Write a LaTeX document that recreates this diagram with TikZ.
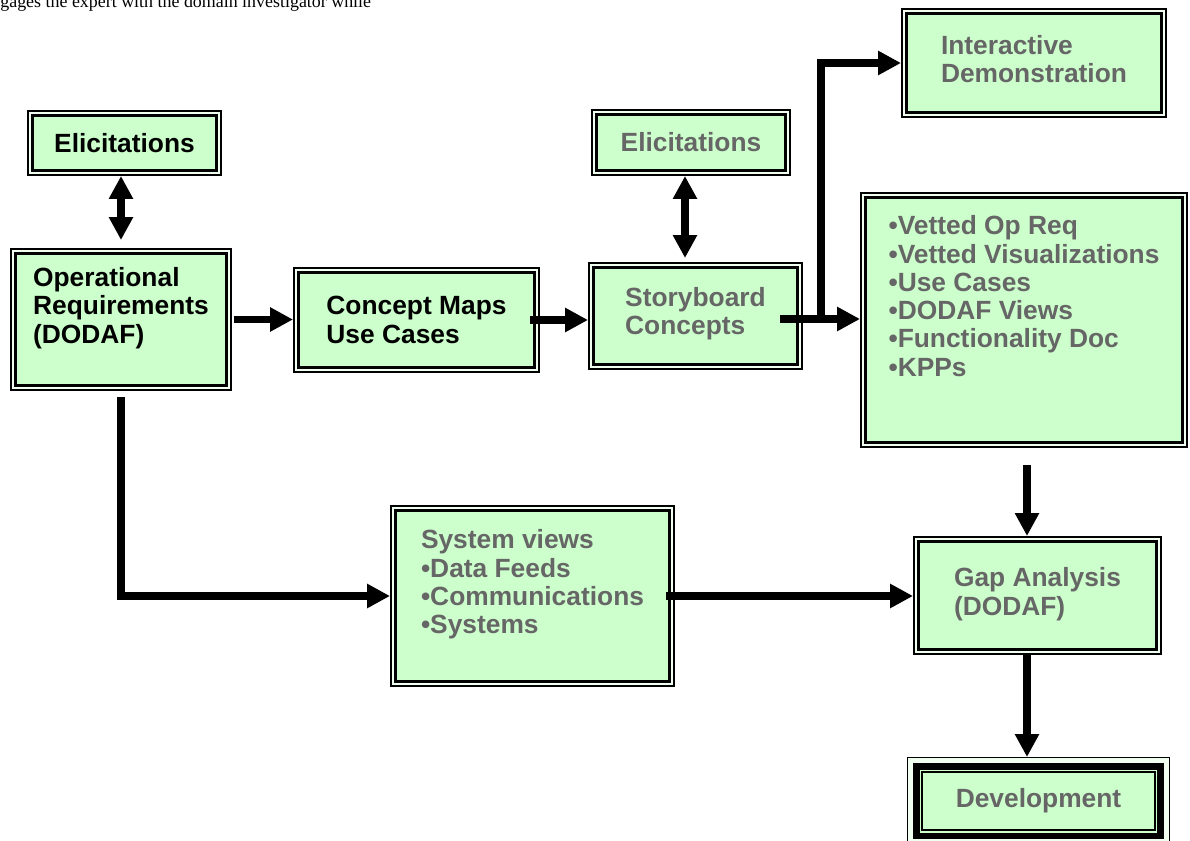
\documentclass[tikz,border=0pt]{standalone}
\usepackage{fontspec}
\setmainfont{Liberation Sans}
\newfontfamily\timesfont{Liberation Serif}
\usetikzlibrary{arrows.meta}
\definecolor{boxgreen}{HTML}{CCFFCC}
\definecolor{textgrey}{HTML}{666666}

\begin{document}
\begin{tikzpicture}[x=0.02cm,y=-0.02cm,
    boxbase/.style={rectangle,fill=boxgreen,draw=black,inner sep=2pt,align=left,
      font=\bfseries\fontsize{15}{16.1}\selectfont},
    box/.style={boxbase,line width=0.06cm,outer sep=0.1cm,
      preaction={draw=black,line width=0.2cm},
      preaction={draw=boxgreen!30!white,line width=0.14cm}},
    devbox/.style={boxbase,line width=0.03cm,outer sep=0.3cm,
      preaction={draw=black,line width=0.62cm},
      preaction={draw=boxgreen!30!white,line width=0.56cm},
      preaction={draw=black,line width=0.38cm},
      preaction={draw=boxgreen,line width=0.1cm}},
    grey/.style={text=textgrey},
    arrow/.style={line width=0.16cm,-{Triangle[length=0.46cm,width=0.46cm]}},
    biarrow/.style={line width=0.16cm,
      {Triangle[length=0.46cm,width=0.46cm]}-{Triangle[length=0.46cm,width=0.46cm]}}]
  \useasboundingbox (0,0) rectangle (1190,841);

  % page text above the figure
  \node[anchor=base west,inner sep=0,font=\timesfont\fontsize{10.2}{12}\selectfont] (pagetext) at (0,8)
    {gages the expert with the domain investigator while};

  % boxes
  \node[box,minimum width=3.7cm,minimum height=1.12cm] (elic1) at (124.5,143) {Elicitations};
  \node[box,minimum width=4.24cm,minimum height=2.66cm] (opreq) at (121,319.5)
    {Operational\\Requirements\\(DODAF)\\~};
  \node[box,minimum width=4.74cm,minimum height=1.92cm] (concept) at (416.5,320)
    {Concept Maps\\Use Cases};
  \node[box,grey,minimum width=3.8cm,minimum height=1.14cm] (elic2) at (691,142.5) {Elicitations};
  \node[box,grey,minimum width=4.1cm,minimum height=1.96cm] (story) at (695.5,316)
    {Storyboard\\Concepts\\[-10.5pt]~};
  \node[box,grey,minimum width=5.12cm,minimum height=2cm] (inter) at (1034,63)
    {Interactive\\Demonstration\\[-11.5pt]~};
  \node[box,grey,minimum width=6.36cm,minimum height=4.92cm] (list) at (1024,320)
    {•Vetted Op Req\\•Vetted Visualizations\\•Use Cases\\•DODAF Views\\•Functionality Doc\\•KPPs\\[11.3pt]~};
  \node[box,grey,minimum width=5.5cm,minimum height=3.44cm] (sysv) at (532.5,596)
    {System views\\•Data Feeds\\•Communications\\•Systems\\~};
  \node[box,grey,minimum width=4.78cm,minimum height=2.18cm] (gap) at (1037.5,595.5)
    {Gap Analysis\\(DODAF)\\[-11.5pt]~};
  \node[devbox,grey,minimum width=4.66cm,minimum height=1.16cm] (dev) at (1038.5,801)
    {Development\\[-13pt]~};

  % connectors
  \coordinate (fork) at (821,319);
  \draw[biarrow,shorten >=0.16cm] (opreq.north |- elic1.south) -- (opreq.north);
  \draw[biarrow,shorten >=0.08cm] ([xshift=-0.21cm]story.north |- elic2.south) -- ([xshift=-0.21cm]story.north);
  \draw[arrow,shorten <=0.04cm] (opreq.east) -- (opreq.east -| concept.west);
  \draw[arrow,shorten <=-0.2cm] (concept.east) -- (concept.east -| story.west);
  \draw[arrow,shorten <=-0.46cm] (story.east |- fork) -- (list.west |- fork);
  \draw[arrow] (fork) |- (inter.west);
  \draw[arrow,shorten <=0.12cm] (opreq.south) |- (sysv.west);
  \draw[arrow,shorten <=-0.18cm] (sysv.east) -- (sysv.east -| gap.west);
  \draw[arrow,shorten <=0.34cm] ([xshift=-0.21cm]gap.north |- list.south) -- ([xshift=-0.21cm]gap.north);
  \draw[arrow] ([xshift=-0.21cm]gap.south) -- ([xshift=-0.21cm]gap.south |- dev.north);
\end{tikzpicture}
\end{document}
